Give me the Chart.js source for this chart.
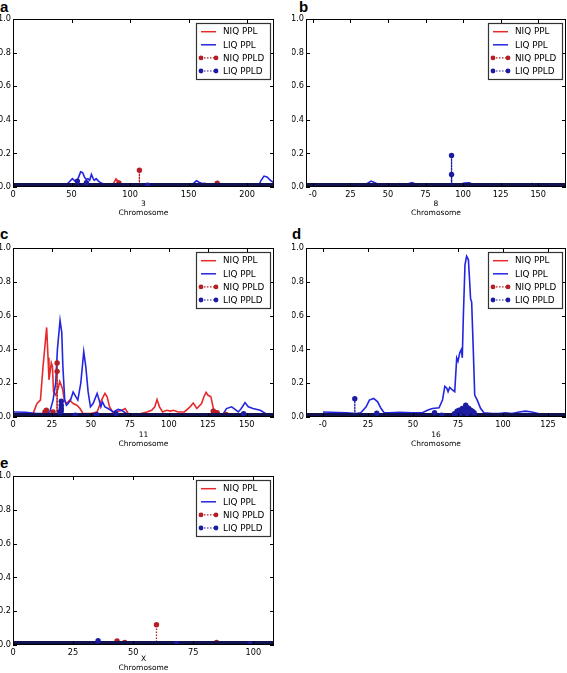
<!DOCTYPE html>
<html>
<head>
<meta charset="utf-8">
<script src="https://cdn.jsdelivr.net/npm/chart.js@4.4.1/dist/chart.umd.min.js"></script>
<style>
body{margin:0;background:#fff;width:567px;height:673px;position:relative;overflow:hidden}
canvas{position:absolute}
.tag{position:absolute;font:bold 15px "Liberation Sans",Arial,sans-serif;line-height:15px;color:#000}
</style>
</head>
<body>
<div class="tag" style="left:0;top:-1px">a</div>
<div class="tag" style="left:299px;top:-1px">b</div>
<div class="tag" style="left:0;top:226px">c</div>
<div class="tag" style="left:292px;top:226px">d</div>
<div class="tag" style="left:0;top:455px">e</div>
<canvas id="ca" width="278" height="222" style="left:0;top:0"></canvas>
<canvas id="cb" width="275" height="222" style="left:292px;top:0"></canvas>
<canvas id="cc" width="278" height="223" style="left:0;top:229px"></canvas>
<canvas id="cd" width="275" height="223" style="left:292px;top:229px"></canvas>
<canvas id="ce" width="278" height="216" style="left:0;top:457px"></canvas>
<script>
// tick labels
const yTicks = [0, 0.2, 0.4, 0.6, 0.8, 1.0];
const xTicksA = [0, 50, 100, 150, 200];
const xTicksB = [0, 25, 50, 75, 100, 125, 150];
const xTicksC = [0, 25, 50, 75, 100, 125, 150];
const xTicksD = [0, 25, 50, 75, 100, 125];
const xTicksE = [0, 25, 50, 75, 100];
const chromosomes = ['3', '8', '11', '16', 'X'];

// panel a, chromosome 3  ([position, value])
const niqPplA = [[0,0.004],[18,0.004],[22,0.01],[25,0.012],[28,0.01],[31,0.005],[50,0.004],[80,0.004],[85,0.01],[88,0.048],[90,0.032],[92,0.02],[94,0.008],[100,0.004],[124,0.005],[128,0.015],[131,0.008],[140,0.004],[158,0.005],[162,0.016],[165,0.006],[180,0.004],[223,0.004]];
const liqPplA = [[0,0.01],[20,0.008],[35,0.01],[45,0.01],[48,0.03],[50.7,0.05],[53,0.035],[55,0.04],[57.8,0.09],[59.5,0.085],[61,0.06],[62.5,0.045],[64,0.05],[65.5,0.04],[67,0.075],[68.5,0.05],[69.5,0.04],[71,0.05],[73,0.035],[75,0.025],[77,0.02],[80,0.012],[90,0.008],[100,0.01],[110,0.01],[114,0.016],[118,0.01],[125,0.014],[132,0.01],[138,0.012],[142,0.016],[146,0.012],[150,0.01],[154,0.02],[156.7,0.037],[159,0.028],[162,0.02],[164,0.022],[167,0.01],[175,0.012],[185,0.01],[190,0.015],[195,0.012],[205,0.006],[210,0.01],[212,0.04],[214.5,0.065],[217,0.06],[220,0.04],[223,0.025]];
const niqPpldA = [[25,0.008],[90.5,0.024],[108,0.1],[174.5,0.023]];
const liqPpldA = [[55,0.035],[62.7,0.026],[115,0.01]];

// panel b, chromosome 8
const niqPplB = [[-4.6,0.004],[50,0.004],[54,0.012],[57,0.02],[60,0.015],[64,0.006],[100,0.004],[148,0.004],[152,0.01],[156,0.004],[168.5,0.004]];
const liqPplB = [[-4.6,0.01],[0,0.012],[4,0.016],[8,0.01],[12,0.012],[15.5,0.016],[19,0.01],[30,0.008],[34,0.015],[36,0.02],[38.7,0.035],[42,0.022],[46,0.01],[52,0.012],[55,0.018],[60,0.016],[63,0.018],[66,0.026],[69,0.015],[75,0.01],[90,0.008],[97,0.015],[101,0.024],[104,0.025],[107,0.015],[112,0.01],[125,0.008],[140,0.01],[146,0.02],[149,0.012],[155,0.008],[168.5,0.008]];
const niqPpldB = [[60,0.008]];
const liqPpldB = [[92.3,0.188],[92.3,0.075]];

// panel c, chromosome 11
const niqPplC = [[0,0.01],[10,0.01],[12.9,0.02],[15.4,0.08],[17.6,0.1],[19.3,0.3],[21.6,0.53],[22.5,0.35],[23.1,0.22],[24.6,0.32],[25.3,0.3],[26,0.15],[27.4,0.13],[29,0.17],[30,0.21],[31.7,0.17],[33,0.1],[34.3,0.08],[36.4,0.1],[38.6,0.08],[41,0.07],[43,0.05],[45,0.02],[50,0.02],[54,0.03],[56.8,0.1],[59,0.14],[60.4,0.12],[62,0.06],[64,0.03],[66,0.03],[70,0.04],[72,0.05],[74,0.02],[77,0.01],[82,0.02],[86,0.03],[89,0.04],[91,0.06],[92.4,0.103],[94,0.06],[96,0.03],[98.6,0.04],[101,0.035],[103,0.04],[106,0.03],[110,0.03],[113.6,0.06],[115.7,0.083],[118,0.05],[121,0.08],[122.5,0.12],[123.9,0.146],[125,0.13],[127,0.12],[128.6,0.05],[130.7,0.03],[134,0.015],[140,0.01],[167.5,0.01]];
const liqPplC = [[0,0.03],[8,0.028],[15,0.02],[20,0.02],[23.6,0.03],[25.7,0.1],[27.4,0.2],[28.5,0.4],[30.2,0.572],[31.3,0.5],[32,0.3],[33.2,0.1],[34.3,0.07],[35.4,0.08],[36.9,0.1],[38.6,0.148],[40.3,0.12],[41.6,0.1],[43.5,0.2],[45.4,0.387],[46.7,0.3],[48.2,0.15],[49.7,0.06],[51.4,0.08],[54,0.14],[55.3,0.1],[56.4,0.06],[57.4,0.09],[59,0.06],[61,0.05],[64.3,0.03],[67.5,0.045],[69.6,0.04],[73,0.02],[77,0.006],[100,0.006],[130,0.006],[135,0.02],[137,0.05],[140.3,0.06],[142.5,0.045],[144.6,0.03],[146.5,0.05],[148.9,0.085],[151,0.06],[154,0.05],[158.7,0.04],[163,0.015],[167.5,0.02]];
const niqPpldC = [[20.5,0.03],[21.4,0.04],[25.7,0.03],[28.3,0.32],[28.3,0.27],[64,0.01],[128.5,0.035],[131,0.025],[136.7,0.015]];
const liqPpldC = [[30,0.03],[31,0.093],[31,0.07],[31,0.05],[31,0.035],[40,0.01],[53.6,0.015],[66,0.02],[148,0.02]];

// panel d, chromosome 16
const niqPplD = [[0,0.004],[85,0.004],[90,0.008],[95,0.006],[100,0.004],[135,0.004]];
const liqPplD = [[0,0.03],[13,0.025],[18.4,0.02],[21,0.025],[24,0.06],[25.8,0.1],[28.2,0.11],[30.4,0.09],[32.3,0.05],[34,0.025],[36.9,0.025],[42.4,0.028],[49.8,0.025],[55.3,0.025],[58,0.04],[60.8,0.05],[64.5,0.055],[66.4,0.1],[67.7,0.181],[68.8,0.17],[69.5,0.15],[70.4,0.175],[71.9,0.16],[73.2,0.15],[74.3,0.349],[75,0.33],[76,0.38],[76.9,0.4],[77.4,0.35],[78,0.6],[78.9,0.9],[79.8,0.951],[80.8,0.93],[81.5,0.8],[82,0.7],[82.6,0.68],[83.5,0.4],[84.3,0.13],[85.7,0.1],[87.6,0.05],[89.4,0.025],[94,0.02],[97.7,0.02],[101.4,0.025],[105,0.02],[109,0.03],[112.5,0.035],[116,0.03],[121.7,0.015],[135,0.01]];
const niqPpldD = [[88,0.005]];
const liqPpldD = [[17.7,0.108],[29.9,0.022],[62,0.026],[66,0.01],[73,0.02],[74.5,0.035],[75.6,0.04],[76,0.015],[76.5,0.03],[77.4,0.05],[78.3,0.04],[79.3,0.07],[80,0.02],[80.2,0.055],[81,0.05],[82,0.04],[83,0.035],[84,0.025]];

// panel e, chromosome X
const niqPplE = [[0,0.005],[11,0.005],[13,0.002],[30,0.004],[36,0.012],[38,0.015],[40,0.01],[44,0.006],[80,0.005],[84,0.012],[86,0.015],[88,0.008],[95,0.004],[108.6,0.004]];
const liqPplE = [[0,0.015],[11.8,0.014],[13,0.004],[15,0.002],[18,0.007],[40,0.008],[70,0.008],[100,0.008],[108.6,0.008]];
const niqPpldE = [[43.3,0.024],[46.5,0.015],[59.7,0.12],[84.7,0.015]];
const liqPpldE = [[35.4,0.025],[68,0.008],[98.6,0.006]];

const RED = '#e8292b', BLUE = '#2326e0', DRED = '#b41f24', DBLUE = '#1c1ca2', BAND = '#12124f';
const FONT = '"DejaVu Sans", sans-serif';

const panels = [
  {id:'ca', chr:chromosomes[0], xMin:0, xMax:223, xt:xTicksA, yW:13, xH:35, padR:4, pb:4.5, negZero:false,
   niq:niqPplA, liq:liqPplA, niqD:niqPpldA, liqD:liqPpldA},
  {id:'cb', chr:chromosomes[1], xMin:-4.6, xMax:168.5, xt:xTicksB, yW:14, xH:35, padR:1, pb:4.5, negZero:true,
   niq:niqPplB, liq:liqPplB, niqD:niqPpldB, liqD:liqPpldB},
  {id:'cc', chr:chromosomes[2], xMin:0, xMax:167.5, xt:xTicksC, yW:13, xH:35, padR:4, pb:3.5, negZero:false,
   niq:niqPplC, liq:liqPplC, niqD:niqPpldC, liqD:liqPpldC},
  {id:'cd', chr:chromosomes[3], xMin:-9.4, xMax:135, xt:xTicksD, yW:14, xH:35, padR:1, pb:3.5, negZero:true,
   niq:niqPplD, liq:liqPplD, niqD:niqPpldD, liqD:liqPpldD},
  {id:'ce', chr:chromosomes[4], xMin:0, xMax:108.6, xt:xTicksE, yW:13, xH:28, padR:4, pb:0, negZero:false,
   niq:niqPplE, liq:liqPplE, niqD:niqPpldE, liqD:liqPpldE}
];

function toPts(arr) {
  return arr.map(p => ({x: p[0], y: p[1]}));
}

// PPLD: each value drops to the baseline, consecutive baseline points form the dark band
function stemPts(arr, xMin, xMax) {
  const pts = [{x: xMin, y: 0}];
  arr.slice().sort((p, q) => p[0] - q[0]).forEach(p => {
    pts.push({x: p[0], y: 0}, {x: p[0], y: p[1]}, {x: p[0], y: 0});
  });
  pts.push({x: xMax, y: 0});
  return pts;
}

function onBase(c) {
  return c.p0.parsed.y === 0 && c.p1.parsed.y === 0;
}

function stemSet(label, arr, p, color, order) {
  return {
    label: label,
    data: stemPts(arr, p.xMin, p.xMax),
    borderColor: color,
    pointBackgroundColor: color,
    pointBorderWidth: 0,
    pointRadius: c => (c.raw && c.raw.y > 0) ? 2.7 : 0,
    borderWidth: 1.3,
    borderDash: [1.5, 1.5],
    clip: 0,
    order: order,
    segment: {
      borderWidth: c => onBase(c) ? 8 : 1.3,
      borderDash: c => onBase(c) ? [] : [1.5, 1.5],
      borderColor: c => onBase(c) ? BAND : color
    }
  };
}

const framePlugin = {
  id: 'frame',
  afterDatasetsDraw(chart) {
    const ctx = chart.ctx, a = chart.chartArea, sx = chart.scales.x, sy = chart.scales.y;
    ctx.save();
    ctx.strokeStyle = '#000';
    ctx.lineWidth = 1;
    ctx.beginPath();
    sx.ticks.forEach(t => {
      const px = Math.round(sx.getPixelForValue(t.value)) + 0.5;
      ctx.moveTo(px, a.bottom); ctx.lineTo(px, a.bottom - 4);
      ctx.moveTo(px, a.top); ctx.lineTo(px, a.top + 4);
    });
    sy.ticks.forEach(t => {
      const py = Math.round(sy.getPixelForValue(t.value)) + 0.5;
      ctx.moveTo(a.left, py); ctx.lineTo(a.left + 4, py);
      ctx.moveTo(a.right, py); ctx.lineTo(a.right - 4, py);
    });
    ctx.stroke();
    ctx.strokeRect(a.left + 0.5, a.top + 0.5, a.right - a.left - 1, a.bottom - a.top - 1);

    // legend box
    const W = 74, H = 56;
    const x0 = Math.round(a.right - 4 - W), y0 = Math.round(a.top + 4);
    ctx.fillStyle = '#fff';
    ctx.fillRect(x0, y0, W, H);
    ctx.strokeStyle = '#333';
    ctx.lineWidth = 1.2;
    ctx.strokeRect(x0 + 0.5, y0 + 0.5, W, H);
    ctx.font = '8.8px ' + FONT;
    ctx.textBaseline = 'middle';
    chart.data.datasets.forEach((ds, i) => {
      const cy = y0 + 8.7 + i * 13.1;
      const l = x0 + 5, r = x0 + 20;
      const stem = ds.label.endsWith('PPLD');
      ctx.strokeStyle = ds.borderColor;
      ctx.lineWidth = stem ? 1.2 : 1.5;
      ctx.setLineDash(stem ? [1.5, 1.5] : []);
      ctx.beginPath(); ctx.moveTo(l, cy); ctx.lineTo(r, cy); ctx.stroke();
      ctx.setLineDash([]);
      if (stem) {
        ctx.fillStyle = ds.pointBackgroundColor;
        [l, r].forEach(px => { ctx.beginPath(); ctx.arc(px, cy, 2.4, 0, Math.PI * 2); ctx.fill(); });
      }
      ctx.fillStyle = '#000';
      ctx.fillText(ds.label, x0 + 27, cy + 0.5);
    });
    ctx.restore();
  }
};

panels.forEach(p => {
  const datasets = [
    {label:'NIQ PPL', data:toPts(p.niq), borderColor:RED, borderWidth:1.6, pointRadius:0, tension:0, order:4},
    {label:'LIQ PPL', data:toPts(p.liq), borderColor:BLUE, borderWidth:1.6, pointRadius:0, tension:0, order:3},
    stemSet('NIQ PPLD', p.niqD, p, DRED, 2),
    stemSet('LIQ PPLD', p.liqD, p, DBLUE, 1)
  ];
  new Chart(document.getElementById(p.id), {
    type: 'line',
    data: {datasets: datasets},
    plugins: [framePlugin],
    options: {
      responsive: false,
      animation: false,
      devicePixelRatio: 1,
      layout: {padding: {left: 0, top: 19, right: p.padR, bottom: 0}},
      plugins: {legend: {display: false}, tooltip: {enabled: false}},
      scales: {
        x: {
          type: 'linear',
          min: p.xMin,
          max: p.xMax,
          grid: {display: false, drawTicks: false},
          border: {display: false},
          afterBuildTicks: s => { s.ticks = p.xt.map(v => ({value: v})); },
          afterFit: s => { s.height = p.xH; },
          ticks: {
            padding: 3,
            maxRotation: 0,
            autoSkip: false,
            color: '#000',
            font: {family: FONT, size: 8.2},
            callback: v => (v === 0 && p.negZero) ? '-0' : String(v)
          },
          title: {
            display: true,
            text: [p.chr, 'Chromosome'],
            color: '#000',
            font: {family: FONT, size: 7.5, lineHeight: 1.2},
            padding: {top: 0, bottom: p.pb}
          }
        },
        y: {
          min: 0,
          max: 1,
          grid: {display: false, drawTicks: false},
          border: {display: false},
          afterBuildTicks: s => { s.ticks = yTicks.map(v => ({value: v})); },
          afterFit: s => { s.width = p.yW; },
          ticks: {
            padding: 2,
            color: '#000',
            font: {family: FONT, size: 8.2},
            callback: v => v.toFixed(1)
          }
        }
      }
    }
  });
});
</script>
</body>
</html>
